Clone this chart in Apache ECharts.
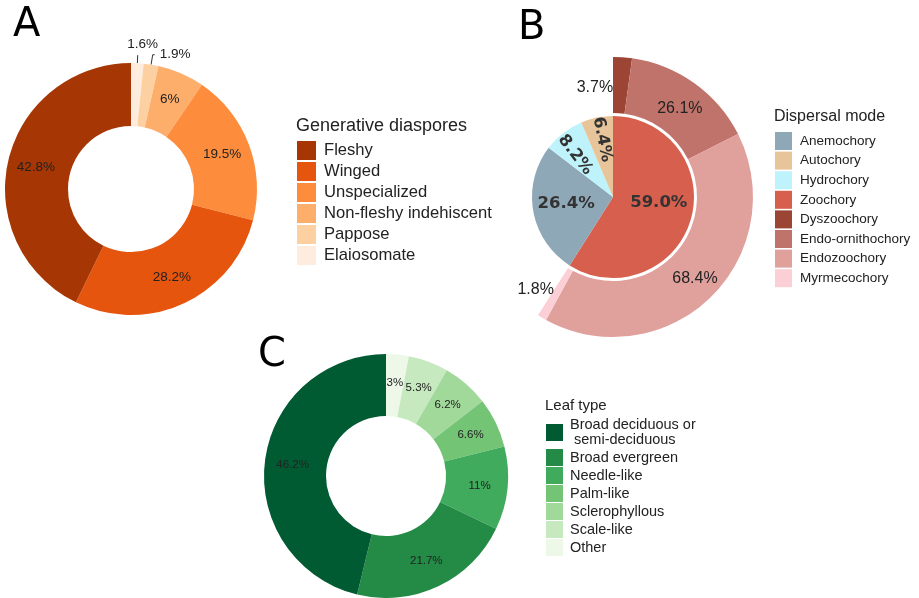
<!DOCTYPE html>
<html>
<head>
<meta charset="utf-8">
<script src="https://cdn.jsdelivr.net/npm/echarts@6/dist/echarts.min.js"></script>
<style>
  html, body { margin: 0; padding: 0; background: #fff; }
  #chart { width: 919px; height: 598px; }
</style>
</head>
<body>
<div id="chart"></div>
<script>
// Panel A: generative diaspores, listed clockwise from 12 o'clock
const diasporeNames = ['Elaiosomate', 'Pappose', 'Non-fleshy indehiscent', 'Unspecialized', 'Winged', 'Fleshy'];
const diasporeValues = [1.6, 1.9, 6, 19.5, 28.2, 42.8];
const diasporeLegend = ['Fleshy', 'Winged', 'Unspecialized', 'Non-fleshy indehiscent', 'Pappose', 'Elaiosomate'];

// Panel B: dispersal mode (inner pie) and the split of zoochory (outer ring)
const modeNames = ['Zoochory', 'Anemochory', 'Hydrochory', 'Autochory'];
const modeValues = [59.0, 26.4, 8.2, 6.4];
const zooNames = ['Dyszoochory', 'Endo-ornithochory', 'Endozoochory', 'Myrmecochory'];
const zooValues = [3.7, 26.1, 68.4, 1.8];
const modeLegend = ['Anemochory', 'Autochory', 'Hydrochory', 'Zoochory', 'Dyszoochory', 'Endo-ornithochory', 'Endozoochory', 'Myrmecochory'];

// Panel C: leaf type, listed clockwise from 12 o'clock
const leafNames = ['Other', 'Scale-like', 'Sclerophyllous', 'Palm-like', 'Needle-like', 'Broad evergreen', 'Broad deciduous or\n semi-deciduous'];
const leafValues = [3, 5.3, 6.2, 6.6, 11, 21.7, 46.2];
const leafLegend = leafNames.slice().reverse();

// Palettes
const diasporeColors = ['#feedde', '#fdd0a2', '#fdae6b', '#fd8d3c', '#e6550d', '#a63603'];
const modeColors = ['#d65f4e', '#8fa8b8', '#bff3fb', '#e8c49b'];
const zooColors = ['#9c4535', '#c0736a', '#e0a19d', '#fccfd6'];
const leafColors = ['#edf8e9', '#c7e9c0', '#a1d99b', '#74c476', '#41ab5d', '#238b45', '#005a32'];

const FONT = "'Liberation Sans', Arial, sans-serif";
const LETTER_FONT = "'DejaVu Sans', sans-serif";

// label nudges (pixels, in the label's own rotated frame)
const innerLabelShift = { 0: [4, -6], 1: [-4, -1], 2: [-13, 4], 3: [-15, -1] };
const outerLabelShift = { 0: [-26, 5], 1: [0, 5], 2: [2, -1], 3: [-19, -7] };

function pieData(names, values, colors, extra) {
  return names.map((name, i) => Object.assign(
    { name: name, value: values[i], itemStyle: { color: colors[i] } },
    (extra && extra[i]) || {}
  ));
}

const plainPct = p => p.value + '%';
const fixedPct = p => p.value.toFixed(1) + '%';

const leaderLine = (len, len2) => ({
  show: true, length: len, length2: len2, lineStyle: { color: '#333', width: 1 }
});

const shiftBy = table => function (p) {
  const s = table[p.dataIndex];
  if (s) return { dx: s[0], dy: s[1] };
};

const chart = echarts.init(document.getElementById('chart'), null, { renderer: 'canvas' });

const legendBase = { orient: 'vertical', padding: 0, icon: 'rect', selectedMode: false };
const flat = { borderWidth: 0 };

chart.setOption({
  animation: false,
  legend: [
    Object.assign({}, legendBase, {
      data: diasporeLegend, left: 297, top: 141,
      itemWidth: 19, itemHeight: 19, itemGap: 2,
      itemStyle: flat,
      textStyle: { fontFamily: FONT, fontSize: 16.6, color: '#222', padding: [0, 0, 0, 3] }
    }),
    Object.assign({}, legendBase, {
      data: modeLegend, left: 775, top: 132,
      itemWidth: 17, itemHeight: 18, itemGap: 1.6,
      itemStyle: flat,
      textStyle: { fontFamily: FONT, fontSize: 13.5, color: '#222', padding: [0, 0, 0, 3] }
    }),
    Object.assign({}, legendBase, {
      data: leafLegend, left: 546, top: 417,
      itemWidth: 17, itemHeight: 17, itemGap: 1,
      itemStyle: flat,
      textStyle: { fontFamily: FONT, fontSize: 14.5, lineHeight: 15.5, color: '#222', padding: [0, 0, 0, 2] }
    })
  ],
  graphic: [
    { type: 'text', x: 13, y: 26, style: { text: 'A', font: '40px ' + LETTER_FONT, fill: '#000', verticalAlign: 'middle' } },
    { type: 'text', x: 518, y: 29, style: { text: 'B', font: '40px ' + LETTER_FONT, fill: '#000', verticalAlign: 'middle' } },
    { type: 'text', x: 258, y: 356, style: { text: 'C', font: '40px ' + LETTER_FONT, fill: '#000', verticalAlign: 'middle' } },
    { type: 'text', x: 296, y: 126, style: { text: 'Generative diaspores', font: '18px ' + FONT, fill: '#222', verticalAlign: 'middle' } },
    { type: 'text', x: 774, y: 117, style: { text: 'Dispersal mode', font: '16px ' + FONT, fill: '#222', verticalAlign: 'middle' } },
    { type: 'text', x: 545, y: 406, style: { text: 'Leaf type', font: '15px ' + FONT, fill: '#222', verticalAlign: 'middle' } }
  ],
  series: [
    {
      id: 'diaspores',
      type: 'pie',
      center: [131, 189],
      radius: [63, 126],
      startAngle: 90,
      clockwise: true,
      avoidLabelOverlap: false,
      emphasis: { disabled: true },
      itemStyle: flat,
      label: { show: true, position: 'inside', formatter: plainPct, fontFamily: FONT, fontSize: 13.5, color: '#222' },
      labelLine: { show: false },
      data: pieData(diasporeNames, diasporeValues, diasporeColors, {
        0: { label: { position: 'outside' }, labelLine: leaderLine(8, 0) },
        1: { label: { position: 'outside' }, labelLine: leaderLine(10, 2) }
      }),
      labelLayout: function (p) {
        if (p.dataIndex === 0) {
          return { align: 'center', verticalAlign: 'bottom', dy: -4 };
        }
      }
    },
    {
      id: 'modes',
      type: 'pie',
      center: [613, 197],
      radius: [0, 81],
      startAngle: 90,
      clockwise: true,
      avoidLabelOverlap: false,
      emphasis: { disabled: true },
      itemStyle: flat,
      label: {
        show: true, position: 'inside', formatter: fixedPct,
        fontFamily: LETTER_FONT, fontWeight: 'bold', fontSize: 16.5, color: '#333'
      },
      labelLine: { show: false },
      data: pieData(modeNames, modeValues, modeColors, {
        2: { label: { rotate: 'radial' } },
        3: { label: { rotate: 'radial' } }
      }),
      labelLayout: shiftBy(innerLabelShift)
    },
    {
      id: 'zoochorySplit',
      type: 'pie',
      center: [613, 197],
      radius: [84, 140],
      startAngle: 90,
      endAngle: 90 - 360 * modeValues[0] / 100,
      clockwise: true,
      avoidLabelOverlap: false,
      emphasis: { disabled: true },
      itemStyle: flat,
      label: { show: true, position: 'inside', formatter: fixedPct, fontFamily: FONT, fontSize: 16, color: '#222' },
      labelLine: { show: false },
      data: pieData(zooNames, zooValues, zooColors),
      labelLayout: shiftBy(outerLabelShift)
    },
    {
      id: 'leaves',
      type: 'pie',
      center: [386, 476],
      radius: [60, 122],
      startAngle: 90,
      clockwise: true,
      avoidLabelOverlap: false,
      emphasis: { disabled: true },
      itemStyle: flat,
      label: { show: true, position: 'inside', formatter: plainPct, fontFamily: FONT, fontSize: 11.5, color: '#222' },
      labelLine: { show: false },
      data: pieData(leafNames, leafValues, leafColors)
    }
  ]
});
</script>
</body>
</html>
